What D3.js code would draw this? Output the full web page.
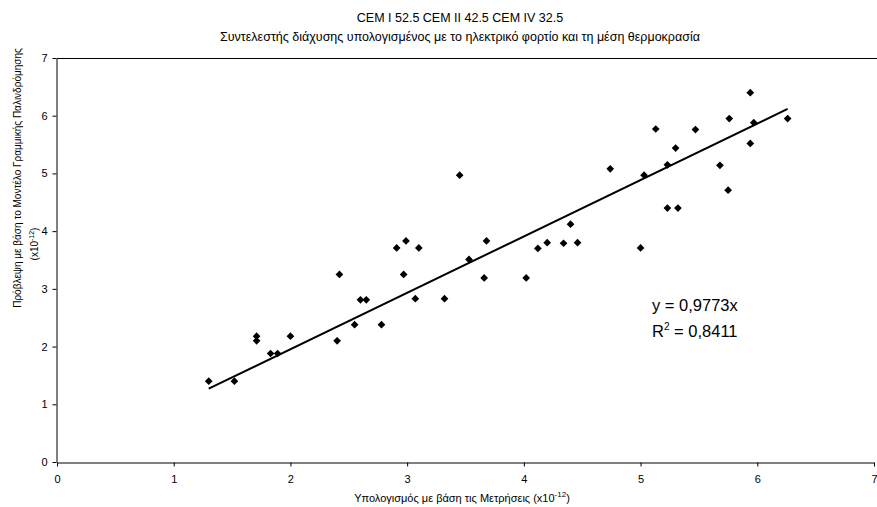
<!DOCTYPE html>
<html>
<head>
<meta charset="utf-8">
<script src="https://cdn.jsdelivr.net/npm/d3@7"></script>
<style>
  body { margin: 0; background: #fff; }
  svg text { font-family: "Liberation Sans", Arial, sans-serif; fill: #000; }
</style>
</head>
<body>
<svg id="chart" width="877" height="507"></svg>
<script>
// measured (x10^-12)
var measured = [1.30, 1.52, 1.71, 1.71, 1.83, 1.89, 2.00, 2.40, 2.42, 2.55,
	2.60, 2.65, 2.78, 2.91, 2.99, 2.97, 3.10, 3.07, 3.32, 3.45,
	3.53, 3.66, 3.68, 4.02, 4.12, 4.20, 4.34, 4.40, 4.46, 4.74,
	5.00, 5.03, 5.13, 5.23, 5.30, 5.23, 5.32, 5.47, 5.68, 5.75,
	5.76, 5.94, 5.97, 5.94, 6.26];
// predicted by regression model (x10^-12)
var predicted = [1.40, 1.40, 2.18, 2.10, 1.88, 1.88, 2.18, 2.10, 3.25, 2.38,
	2.81, 2.81, 2.38, 3.71, 3.83, 3.25, 3.71, 2.83, 2.83, 4.97,
	3.51, 3.19, 3.83, 3.19, 3.70, 3.80, 3.79, 4.12, 3.80, 5.08,
	3.71, 4.97, 5.77, 5.15, 5.44, 4.40, 4.40, 5.76, 5.14, 4.71,
	5.95, 6.40, 5.88, 5.52, 5.95];
var xTicks = [0, 1, 2, 3, 4, 5, 6, 7];
var yTicks = [0, 1, 2, 3, 4, 5, 6, 7];
var slope = 0.9773;
var r2 = "0,8411";

var svg = d3.select('#chart');
var x = d3.scaleLinear().domain([0, 7]).range([57, 874]);
var y = d3.scaleLinear().domain([0, 7]).range([462, 58]);

// top border of plot area
svg.append('line')
	.attr('x1', x(0)).attr('x2', 877)
	.attr('y1', y(7) + 0.5).attr('y2', y(7) + 0.5)
	.attr('stroke', '#000');

var xAxis = svg.append('g')
	.attr('transform', 'translate(0,' + (y(0) + 0.5) + ')')
	.call(d3.axisBottom(x).tickValues(xTicks).tickFormat(d3.format('d')).tickSize(4).tickSizeOuter(0));
var yAxis = svg.append('g')
	.attr('transform', 'translate(' + (x(0) - 0.5) + ',0)')
	.call(d3.axisLeft(y).tickValues(yTicks).tickFormat(d3.format('d')).tickSize(4).tickSizeOuter(0));

[xAxis, yAxis].forEach(function(ax) {
	ax.select('.domain').attr('stroke', '#000');
	ax.selectAll('.tick line').attr('stroke', '#000');
	ax.selectAll('text').attr('font-size', 11).attr('font-family', '"Liberation Sans", Arial, sans-serif');
});
xAxis.selectAll('text').attr('dy', '1.2em');
yAxis.selectAll('text').attr('x', -9);

// trend line through origin
var xr = d3.extent(measured);
svg.append('line')
	.attr('x1', x(xr[0])).attr('y1', y(slope * xr[0]))
	.attr('x2', x(xr[1])).attr('y2', y(slope * xr[1]))
	.attr('stroke', '#000').attr('stroke-width', 2);

var diamond = d3.symbol().type(d3.symbolDiamond2).size(38);
svg.selectAll('path.pt')
	.data(measured)
	.enter()
	.append('path')
	.attr('class', 'pt')
	.attr('d', diamond)
	.attr('fill', '#000')
	.attr('transform', function(d, i) {
		return 'translate(' + x(d) + ',' + y(predicted[i]) + ')';
	});

// titles
svg.append('text').attr('x', 460).attr('y', 22).attr('text-anchor', 'middle')
	.attr('font-size', 12.5).text('CEM I 52.5 CEM II 42.5 CEM IV 32.5');
svg.append('text').attr('x', 460).attr('y', 41).attr('text-anchor', 'middle')
	.attr('font-size', 12.5).text('Συντελεστής διάχυσης υπολογισμένος με το ηλεκτρικό φορτίο και τη μέση θερμοκρασία');

// x label
var xl = svg.append('text').attr('x', 462).attr('y', 502).attr('text-anchor', 'middle')
	.attr('font-size', 11);
xl.append('tspan').text('Υπολογισμός με βάση τις Μετρήσεις (x10');
xl.append('tspan').attr('dy', -5).attr('font-size', 8).text('-12');
xl.append('tspan').attr('dy', 5).text(')');

// y label (two lines)
svg.append('text').attr('transform', 'translate(21,178) rotate(-90)')
	.attr('text-anchor', 'middle').attr('font-size', 10)
	.text('Πρόβλεψη με βάση το Μοντέλο Γραμμικής Παλινδρόμησης');
var y2 = svg.append('text').attr('transform', 'translate(38,244) rotate(-90)')
	.attr('text-anchor', 'middle').attr('font-size', 10);
y2.append('tspan').text('(x10');
y2.append('tspan').attr('dy', -4).attr('font-size', 7).text('-12');
y2.append('tspan').attr('dy', 4).text(')');

// equation
svg.append('text').attr('x', 652).attr('y', 311).attr('font-size', 16.5)
	.text('y = ' + String(slope).replace('.', ',') + 'x');
var rt = svg.append('text').attr('x', 652).attr('y', 337).attr('font-size', 16.5);
rt.append('tspan').text('R');
rt.append('tspan').attr('dy', -7).attr('font-size', 10).text('2');
rt.append('tspan').attr('dy', 7).text(' = ' + r2);
</script>
</body>
</html>
